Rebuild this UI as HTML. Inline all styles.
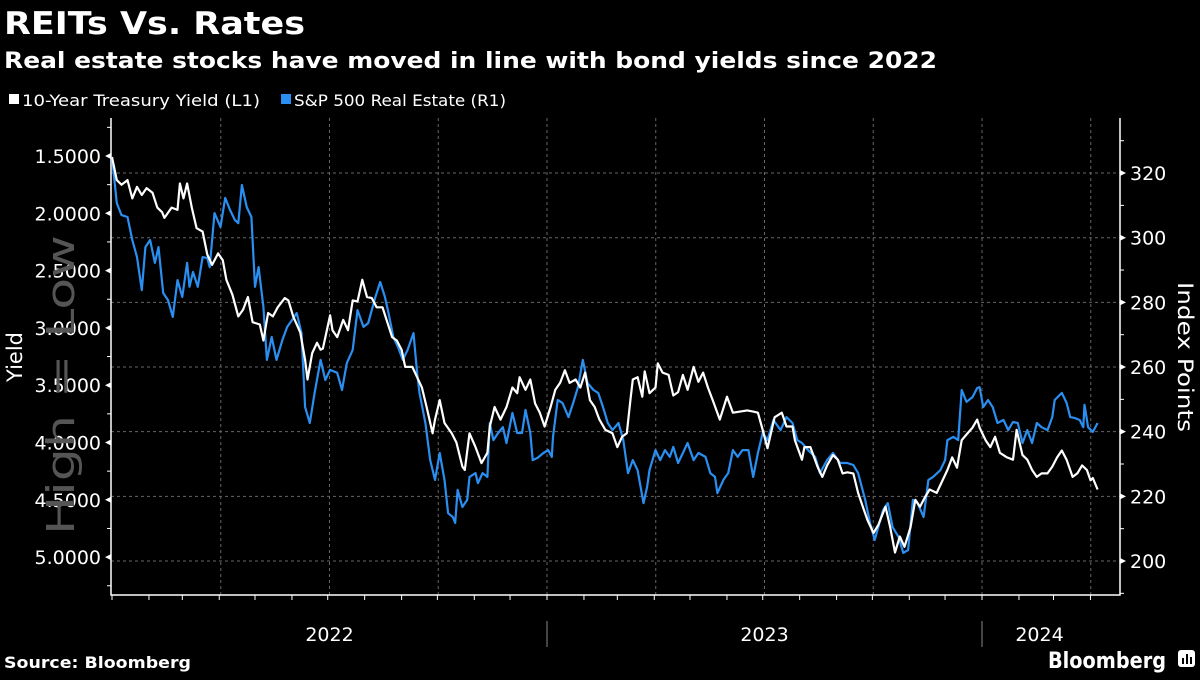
<!DOCTYPE html>
<html><head><meta charset="utf-8"><style>
body{margin:0;background:#000;width:1200px;height:675px;overflow:hidden;font-family:"Liberation Sans",sans-serif;color:#fff}
</style></head><body>
<svg id="c" width="1200" height="675" xmlns="http://www.w3.org/2000/svg">
<rect width="1200" height="675" fill="#000"/>
<text x="4" y="34" font-size="31" font-weight="bold" fill="#fff" font-family="DejaVu Sans, sans-serif" textLength="301" lengthAdjust="spacingAndGlyphs">REITs Vs. Rates</text>
<text x="4" y="68" font-size="22" font-weight="bold" fill="#fff" font-family="DejaVu Sans, sans-serif" textLength="933" lengthAdjust="spacingAndGlyphs">Real estate stocks have moved in line with bond yields since 2022</text>
<g font-size="16" fill="#fff" font-family="DejaVu Sans, sans-serif">
<rect x="9" y="94" width="10" height="10" fill="#fff"/>
<text x="22" y="106" textLength="238" lengthAdjust="spacingAndGlyphs">10-Year Treasury Yield (L1)</text>
<rect x="281" y="94" width="10" height="10" fill="#2a8ff0"/>
<text x="294" y="106" textLength="212" lengthAdjust="spacingAndGlyphs">S&amp;P 500 Real Estate (R1)</text>
</g>
<g id="grid"></g><g id="axes"></g><g id="series"></g>
<text transform="translate(74,385) rotate(-90)" text-anchor="middle" font-size="38" fill="#555" font-family="DejaVu Sans, sans-serif" textLength="300" lengthAdjust="spacingAndGlyphs">High = Low</text>
<text transform="translate(22,357) rotate(-90)" text-anchor="middle" font-size="21" fill="#fff" font-family="DejaVu Sans, sans-serif">Yield</text>
<text transform="translate(1178,357) rotate(90)" text-anchor="middle" font-size="21" fill="#fff" font-family="DejaVu Sans, sans-serif" textLength="150" lengthAdjust="spacingAndGlyphs">Index Points</text>
<text x="4" y="668" font-size="16" font-weight="bold" fill="#fff" font-family="DejaVu Sans, sans-serif" textLength="187" lengthAdjust="spacingAndGlyphs">Source: Bloomberg</text>
<text x="1166" y="668" text-anchor="end" font-size="22" font-weight="bold" fill="#fff" font-family="DejaVu Sans, sans-serif" textLength="118" lengthAdjust="spacingAndGlyphs">Bloomberg</text>
<g><rect x="1178" y="650" width="17" height="17" rx="3" fill="#fff"/><rect x="1182" y="658" width="2" height="6" fill="#000"/><rect x="1186" y="654" width="2" height="10" fill="#000"/><rect x="1190" y="657" width="2" height="7" fill="#000"/></g>
</svg>
<script>
const yieldDays=[0,4,8,13,17,21,25,29,34,38,42,44,50,55,57,60,63,67,71,76,80,84,89,93,96,101,106,110,114,118,124,127,131,135,139,145,148,152,158,162,164,168,172,175,177,183,185,189,194,198,202,206,210,214,218,222,227,231,235,239,243,246,252,256,260,264,269,271,275,279,285,289,294,296,300,305,310,315,317,321,326,331,336,340,342,347,351,355,359,363,368,372,376,380,384,389,393,397,401,405,409,414,420,424,428,432,435,437,441,445,447,451,456,458,462,467,471,475,479,483,488,492,496,500,504,510,516,521,527,533,538,542,546,550,556,562,566,571,573,579,581,586,592,596,600,605,609,613,617,622,626,630,634,639,643,649,653,657,661,665,670,674,678,682,686,692,696,701,705,709,713,717,722,726,728,733,737,741,745,751,756,759,764,768,772,776,780,785,789,793,797,801,806,810,814,818,821,823,827];
const yieldVals=[1.51,1.71,1.75,1.71,1.87,1.77,1.84,1.78,1.82,1.95,1.99,2.04,1.95,1.97,1.74,1.87,1.74,1.95,2.13,2.16,2.36,2.45,2.35,2.41,2.58,2.71,2.90,2.84,2.73,2.95,2.97,3.11,2.87,2.90,2.82,2.74,2.76,2.90,3.04,3.28,3.45,3.22,3.13,3.19,3.18,2.89,3.02,3.08,2.93,3.02,2.76,2.77,2.58,2.73,2.74,2.82,2.82,2.95,3.08,3.11,3.19,3.34,3.34,3.43,3.52,3.69,3.92,3.80,3.63,3.83,3.92,4.00,4.21,4.24,3.92,4.04,4.18,4.09,3.86,3.69,3.80,3.69,3.52,3.57,3.43,3.54,3.45,3.66,3.74,3.86,3.69,3.54,3.48,3.37,3.48,3.45,3.52,3.39,3.63,3.69,3.80,3.89,3.92,4.04,3.95,3.92,3.63,3.45,3.43,3.60,3.38,3.57,3.52,3.31,3.39,3.41,3.59,3.56,3.41,3.54,3.34,3.47,3.39,3.52,3.63,3.80,3.60,3.74,3.73,3.72,3.73,3.74,3.89,4.05,3.78,3.74,3.86,3.86,3.98,4.15,4.04,4.04,4.21,4.30,4.20,4.11,4.15,4.27,4.26,4.27,4.44,4.56,4.68,4.79,4.72,4.56,4.74,4.96,4.82,4.91,4.74,4.50,4.56,4.48,4.41,4.44,4.35,4.24,4.13,4.22,3.98,3.93,3.87,3.80,3.87,3.98,4.04,3.95,4.09,4.13,4.15,3.89,4.11,4.15,4.24,4.30,4.27,4.27,4.21,4.13,4.07,4.15,4.30,4.27,4.20,4.24,4.33,4.31,4.41];
const reitDays=[0,4,8,13,17,21,25,28,32,36,39,43,47,51,55,59,63,65,68,72,76,80,82,86,91,95,99,103,106,109,113,117,120,123,127,130,134,138,143,147,151,155,159,162,166,170,175,179,183,189,193,197,202,206,211,215,221,225,229,232,236,240,244,248,253,256,258,263,267,271,275,279,282,286,288,290,294,298,300,305,307,311,315,317,320,324,328,331,336,340,344,347,351,353,357,362,366,369,370,374,378,383,387,391,395,399,404,408,412,416,420,425,429,433,437,441,446,449,451,456,460,464,468,471,475,479,483,488,492,498,502,506,508,513,517,521,525,529,534,538,542,546,550,555,561,566,571,575,579,584,590,594,600,605,611,617,622,626,632,636,640,643,647,651,655,660,664,668,672,676,681,685,689,695,699,701,706,710,713,717,722,726,728,731,735,739,743,748,752,756,760,764,768,772,776,780,785,789,791,797,801,804,808,812,815,816,819,823,827];
const reitVals=[325.0,310.7,307.0,306.4,299.3,294.0,283.8,297.1,299.3,292.2,297.1,282.9,280.7,275.5,286.9,281.7,292.2,284.8,289.4,284.8,294.0,293.7,290.9,307.6,303.3,312.3,308.6,305.5,304.5,316.3,309.5,306.4,284.8,290.9,278.6,262.2,269.3,262.2,268.4,272.4,274.5,276.7,270.5,247.6,242.7,252.0,262.2,256.0,259.1,258.2,252.9,261.2,265.3,277.6,272.4,273.6,281.7,286.3,281.7,276.7,269.3,266.2,262.2,265.3,270.5,258.2,252.0,242.7,231.2,225.1,233.4,225.1,214.8,213.6,211.8,222.0,216.7,218.9,226.0,227.2,224.1,227.2,226.0,242.7,237.4,239.6,241.4,236.5,245.8,239.6,239.6,246.7,239.6,231.2,231.9,233.4,234.3,232.2,238.4,249.8,248.9,244.5,248.9,253.8,262.2,255.1,252.9,252.0,247.6,242.7,240.5,242.7,237.4,227.2,231.2,228.1,217.9,222.9,228.1,234.3,231.2,234.3,232.2,235.3,230.3,233.4,236.5,231.2,233.4,232.2,227.2,226.0,221.0,225.1,227.2,234.3,232.2,234.3,234.3,226.0,233.4,239.6,237.4,243.6,240.5,244.5,242.7,237.4,236.5,234.3,232.2,227.2,231.2,233.4,230.3,230.3,229.7,227.2,218.9,211.8,206.5,210.5,215.8,217.9,210.5,207.4,202.5,203.4,218.9,217.9,213.6,225.1,226.0,228.1,231.2,237.4,238.4,237.4,252.9,249.2,250.7,253.5,253.8,247.6,249.8,247.6,242.7,243.6,240.5,243.0,242.7,236.5,240.5,236.5,242.7,241.4,240.5,244.5,249.8,252.0,248.9,244.5,244.2,243.6,241.4,248.3,241.4,239.9,242.7];
const yieldTicks=["1.5000","2.0000","2.5000","3.0000","3.5000","4.0000","4.5000","5.0000"];
const reitTicks=[200,220,240,260,280,300,320];
const yearLabels=["2022","2023","2024"];

const NS="http://www.w3.org/2000/svg";
const L=111,R=1120,T=118,B=595;
const xScale=d=>112+d*435/365;
const yL=v=>156+(v-1.5)*114.6;
const yR=v=>561-(v-200)*3.233;
function mk(tag,attrs,parent){const e=document.createElementNS(NS,tag);for(const k in attrs)e.setAttribute(k,attrs[k]);parent.appendChild(e);return e;}
const grid=document.getElementById('grid'),axes=document.getElementById('axes'),series=document.getElementById('series');
reitTicks.forEach(v=>{const l=mk('line',{x1:L,x2:R,y1:yR(v),y2:yR(v),stroke:'#666','stroke-dasharray':'3,3','stroke-width':1},grid);

});
for(let q=1;q<=9;q++){const d=q*365/4;const x=xScale(d);if(x>R)break;const l=mk('line',{x1:x,x2:x,y1:T,y2:B,stroke:'#666','stroke-dasharray':'3,3','stroke-width':1},grid);

}
mk('path',{d:`M${L},${T}V${B}H${R}V${T}`,fill:'none',stroke:'#fff','stroke-width':1.5},axes);
for(let v=1.25;v<=5.26;v+=0.25){const y=yL(v);if(y<T)continue;const major=Math.abs(v*2-Math.round(v*2))<1e-6&&v>=1.5;
if(major){mk('path',{d:`M${L},${y-3}L${L-6},${y}L${L},${y+3}Z`,fill:'#fff'},axes);}else{mk('line',{x1:L-4,x2:L,y1:y,y2:y,stroke:'#fff'},axes);}}
yieldTicks.forEach(s=>{const t=mk('text',{x:101,y:yL(+s)+7,'text-anchor':'end','font-size':19,fill:'#fff','font-family':'DejaVu Sans, sans-serif'},axes);t.textContent=s;

});
for(let v=190;v<=330;v+=10){const y=yR(v);if(y<T||y>B)continue;if(v%20===0){mk('path',{d:`M${R},${y-3}L${R+6},${y}L${R},${y+3}Z`,fill:'#fff'},axes);}else{mk('line',{x1:R,x2:R+4,y1:y,y2:y,stroke:'#fff'},axes);}}
reitTicks.forEach(v=>{const t=mk('text',{x:1130,y:yR(v)+7,'font-size':19,fill:'#fff','font-family':'DejaVu Sans, sans-serif'},axes);t.textContent=v;

});
const mdays=[0,31,28,31,30,31,30,31,31,30,31,30,31];
let d=0;for(let y=0;y<3;y++){for(let m=0;m<12;m++){const x=xScale(d);if(x<=R)mk('line',{x1:x,x2:x,y1:B,y2:B+5,stroke:'#fff'},axes);d+=mdays[m+1]+((y===2&&m===1)?1:0);}}
yearLabels.forEach((s,i)=>{const start=xScale(i*365),end=Math.min(xScale((i+1)*365),1097);const t=mk('text',{x:(start+end)/2,y:641,'text-anchor':'middle','font-size':19,fill:'#fff','font-family':'DejaVu Sans, sans-serif'},axes);t.textContent=s;


if(i>0){const l=mk('line',{x1:start,x2:start,y1:621,y2:647,stroke:'#888'},axes);

}});
const bp=reitDays.map((dd,i)=>`${i?'L':'M'}${xScale(dd).toFixed(1)},${yR(reitVals[i]).toFixed(1)}`).join('');
const b=mk('path',{d:bp,fill:'none',stroke:'#2a8ff0','stroke-width':2.2,'stroke-linejoin':'round'},series);


const wp=yieldDays.map((dd,i)=>`${i?'L':'M'}${xScale(dd).toFixed(1)},${yL(yieldVals[i]).toFixed(1)}`).join('');
const w=mk('path',{d:wp,fill:'none',stroke:'#fff','stroke-width':2.2,'stroke-linejoin':'round'},series);


</script>
</body></html>
